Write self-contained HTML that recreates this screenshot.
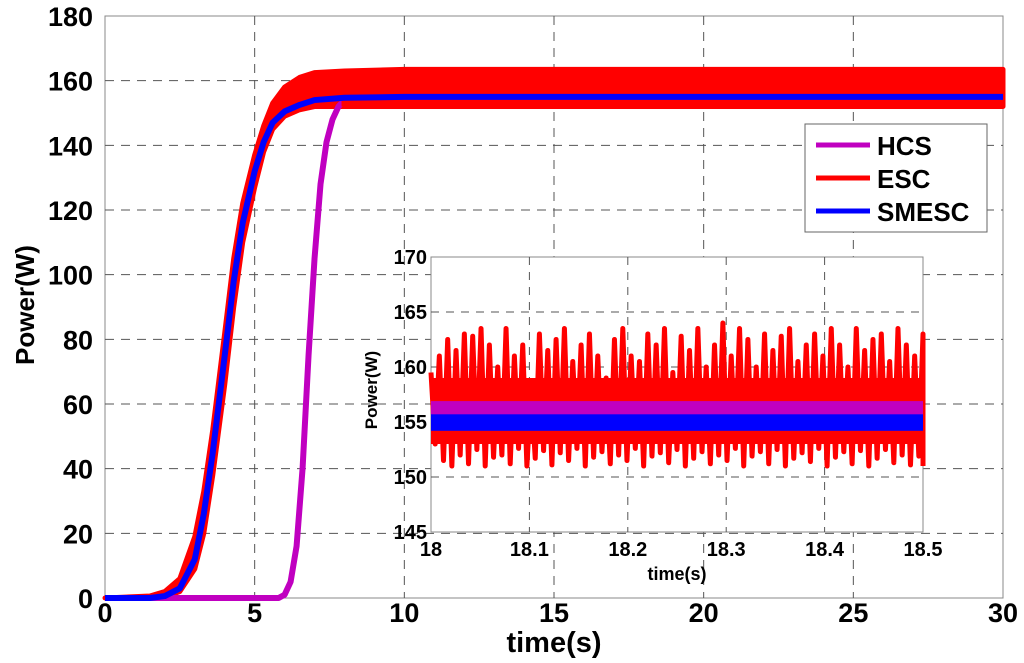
<!DOCTYPE html>
<html><head><meta charset="utf-8"><style>
html,body{margin:0;padding:0;background:#fff;}
svg{display:block;font-family:"Liberation Sans",Arial,sans-serif;font-weight:bold;}
</style></head><body>
<svg id="chart" width="1024" height="663" viewBox="0 0 1024 663"></svg>
<script>
// ---- main chart data ----
const xTicks = [0,5,10,15,20,25,30];
const yTicks = [0,20,40,60,80,100,120,140,160,180];
const escT     = [0,1.5,2,2.5,3,3.3,3.6,4,4.3,4.6,5,5.3,5.6,6,6.5,7,8,10,30];
const escUpper = [0,0.6,2,6,19,33,52,82,105,122,137,146,153,158,161,162.5,163,163.5,163.5];
const escLower = [0,0,0.3,2,9,20,38,66,90,110,127,138,145,149,151,152,152,152,152];
const smT   = [0,1.5,2,2.5,3,3.3,3.6,4,4.3,4.6,5,5.3,5.6,6,6.5,7,8,10,30];
const smP   = [0,0,0.6,3,12,26,45,75,98,116,132,141,147,150.5,152.5,154,154.7,155,155];
const hcsT  = [0,5.8,6,6.2,6.4,6.6,6.8,7,7.2,7.4,7.6,7.8,8,30];
const hcsP  = [0,0,1,5,16,40,75,105,128,141,148,152,154,155];
// ---- inset data ----
const inXTicks = [18,18.1,18.2,18.3,18.4,18.5];
const inYTicks = [145,150,155,160,165,170];
const inEscPeaks = [159.5,161,162.5,161.5,163,162.8,163.5,162,160,163.5,161,162,158,163,161.5,162.5,163.5,160.5,162,163,161,159,162.5,163.5,161,160.5,163,162,163.5,159.5,162.8,161.5,163.5,160,162,164,161,163.5,162.5,160,163,161.5,162.8,163.5,160.5,162,163,161,163.5,162,160,163.5,161.5,162.5,163,160.5,163.5,162,161,163];
const inEscTroughs = [153,151.5,151,152,151.2,152.5,151,151.8,152,151.2,152.6,151,151.7,152.4,151.1,152.2,151.5,152.6,151,151.8,152.3,151.2,152,151.5,152.6,151,151.9,152.2,151.3,152.5,151,151.7,152.3,151.2,152,151.5,152.6,151,151.9,152.3,151.2,152.5,151,151.7,152.2,151.4,152.6,151,151.8,152.3,151.2,152.4,151,151.7,152.5,151.3,152,151.1,151.9,151];
const inHcsRange = [155.2,156.9];
const inSmRange  = [154.2,155.7];

const NS="http://www.w3.org/2000/svg";
const svg=document.getElementById('chart');
function mk(tag,attrs,parent){const e=document.createElementNS(NS,tag);for(const k in attrs)e.setAttribute(k,attrs[k]);(parent||svg).appendChild(e);return e;}

// main axes
const X0=105,X1=1003,Y0=598,Y1=16;
const sx=v=>X0+(v-0)/30*(X1-X0);
const sy=v=>Y0-(v-0)/180*(Y0-Y1);
const gMain=mk('g',{});


mk('rect',{x:X0,y:Y1,width:X1-X0,height:Y0-Y1,fill:'#fff',stroke:'#888','stroke-width':1},gMain);
xTicks.forEach(t=>{
  if(t>0&&t<30){const l=mk('line',{x1:sx(t),x2:sx(t),y1:Y1,y2:Y0,stroke:'#555','stroke-dasharray':'9,7','stroke-width':1},gMain);
  }
  const tx=mk('text',{x:sx(t),y:Y0+24,'text-anchor':'middle','font-size':27},gMain);tx.textContent=t;
  
});
yTicks.forEach(t=>{
  if(t>0&&t<180){const l=mk('line',{x1:X0,x2:X1,y1:sy(t),y2:sy(t),stroke:'#555','stroke-dasharray':'9,7','stroke-width':1},gMain);
  }
  const tx=mk('text',{x:X0-12,y:sy(t)+10,'text-anchor':'end','font-size':27},gMain);tx.textContent=t;
  
});
// ESC band
let pts=escT.map((t,i)=>sx(t)+','+sy(escUpper[i]));
for(let i=escT.length-1;i>=0;i--)pts.push(sx(escT[i])+','+sy(escLower[i]));
const esc=mk('polygon',{points:pts.join(' '),fill:'#ff0000',stroke:'#ff0000','stroke-width':5,'stroke-linejoin':'round'},gMain);

const hcs=mk('polyline',{points:hcsT.map((t,i)=>sx(t)+','+sy(hcsP[i])).join(' '),fill:'none',stroke:'#c000c0','stroke-width':6,'stroke-linejoin':'round'},gMain);

const cp=mk('clipPath',{id:'clipAfter'});mk('rect',{x:sx(7.9),y:0,width:1000,height:sy(150)},cp);
const esc2=mk('polygon',{points:pts.join(' '),fill:'#ff0000',stroke:'none','clip-path':'url(#clipAfter)'},gMain);

const sm=mk('polyline',{points:smT.map((t,i)=>sx(t)+','+sy(smP[i])).join(' '),fill:'none',stroke:'#0000ff','stroke-width':6,'stroke-linejoin':'round'},gMain);

const xl=mk('text',{x:sx(15),y:652,'text-anchor':'middle','font-size':29});xl.textContent='time(s)';

const yl=mk('text',{x:0,y:0,'text-anchor':'middle','font-size':26,transform:'translate(34,305) rotate(-90)'});yl.textContent='Power(W)';


// legend
const lg=mk('g',{});

mk('rect',{x:805,y:124,width:182,height:108,fill:'#fff',stroke:'#666','stroke-width':1},lg);
[['HCS','#c000c0'],['ESC','#ff0000'],['SMESC','#0000ff']].forEach((e,i)=>{
  const y=145+i*33;
  const ln=mk('line',{x1:816,x2:870,y1:y,y2:y,stroke:e[1],'stroke-width':5},lg);
  
  const t=mk('text',{x:877,y:y+10,'font-size':26},lg);t.textContent=e[0];
  
});

// inset
const IX0=431,IX1=923,IY0=532,IY1=257;
const ix=v=>IX0+(v-18)/0.5*(IX1-IX0);
const iy=v=>IY0-(v-145)/25*(IY0-IY1);
const gi=mk('g',{});

mk('rect',{x:IX0,y:IY1,width:IX1-IX0,height:IY0-IY1,fill:'#fff',stroke:'#888','stroke-width':1},gi);
inXTicks.forEach(t=>{
  if(t>18&&t<18.5){const l=mk('line',{x1:ix(t),x2:ix(t),y1:IY1,y2:IY0,stroke:'#555','stroke-dasharray':'8,7'},gi);
  }
  const tx=mk('text',{x:ix(t),y:IY0+24,'text-anchor':'middle','font-size':20},gi);tx.textContent=t;
  
});
inYTicks.forEach(t=>{
  if(t>145&&t<170){const l=mk('line',{x1:IX0,x2:IX1,y1:iy(t),y2:iy(t),stroke:'#555','stroke-dasharray':'8,7'},gi);
  }
  const tx=mk('text',{x:IX0-4,y:iy(t)+7,'text-anchor':'end','font-size':20},gi);tx.textContent=t;
  
});
const n=inEscPeaks.length;
const band=mk('rect',{x:ix(18),y:iy(159),width:ix(18.5)-ix(18),height:iy(153)-iy(159),fill:'#ff0000'},gi);

let zz=[];
for(let i=0;i<n;i++){
  const t0=18+0.5*i/(n-1);
  const t1=Math.min(18.5,t0+0.5/(n-1)*0.5);
  zz.push(ix(t0)+','+iy(inEscPeaks[i]));
  zz.push(ix(t1)+','+iy(inEscTroughs[i]));
}
const zl=mk('polyline',{points:zz.join(' '),fill:'none',stroke:'#ff0000','stroke-width':5,'stroke-linejoin':'round'},gi);

const hb=mk('rect',{x:ix(18),y:iy(inHcsRange[1]),width:ix(18.5)-ix(18),height:iy(inHcsRange[0])-iy(inHcsRange[1]),fill:'#c000c0'},gi);

const sb=mk('rect',{x:ix(18),y:iy(inSmRange[1]),width:ix(18.5)-ix(18),height:iy(inSmRange[0])-iy(inSmRange[1]),fill:'#0000ff'},gi);

const ixl=mk('text',{x:(IX0+IX1)/2,y:IY0+48,'text-anchor':'middle','font-size':18},gi);ixl.textContent='time(s)';

const iyl=mk('text',{x:0,y:0,'text-anchor':'middle','font-size':17,transform:'translate(377,390) rotate(-90)'},gi);iyl.textContent='Power(W)';

</script>
</body></html>
